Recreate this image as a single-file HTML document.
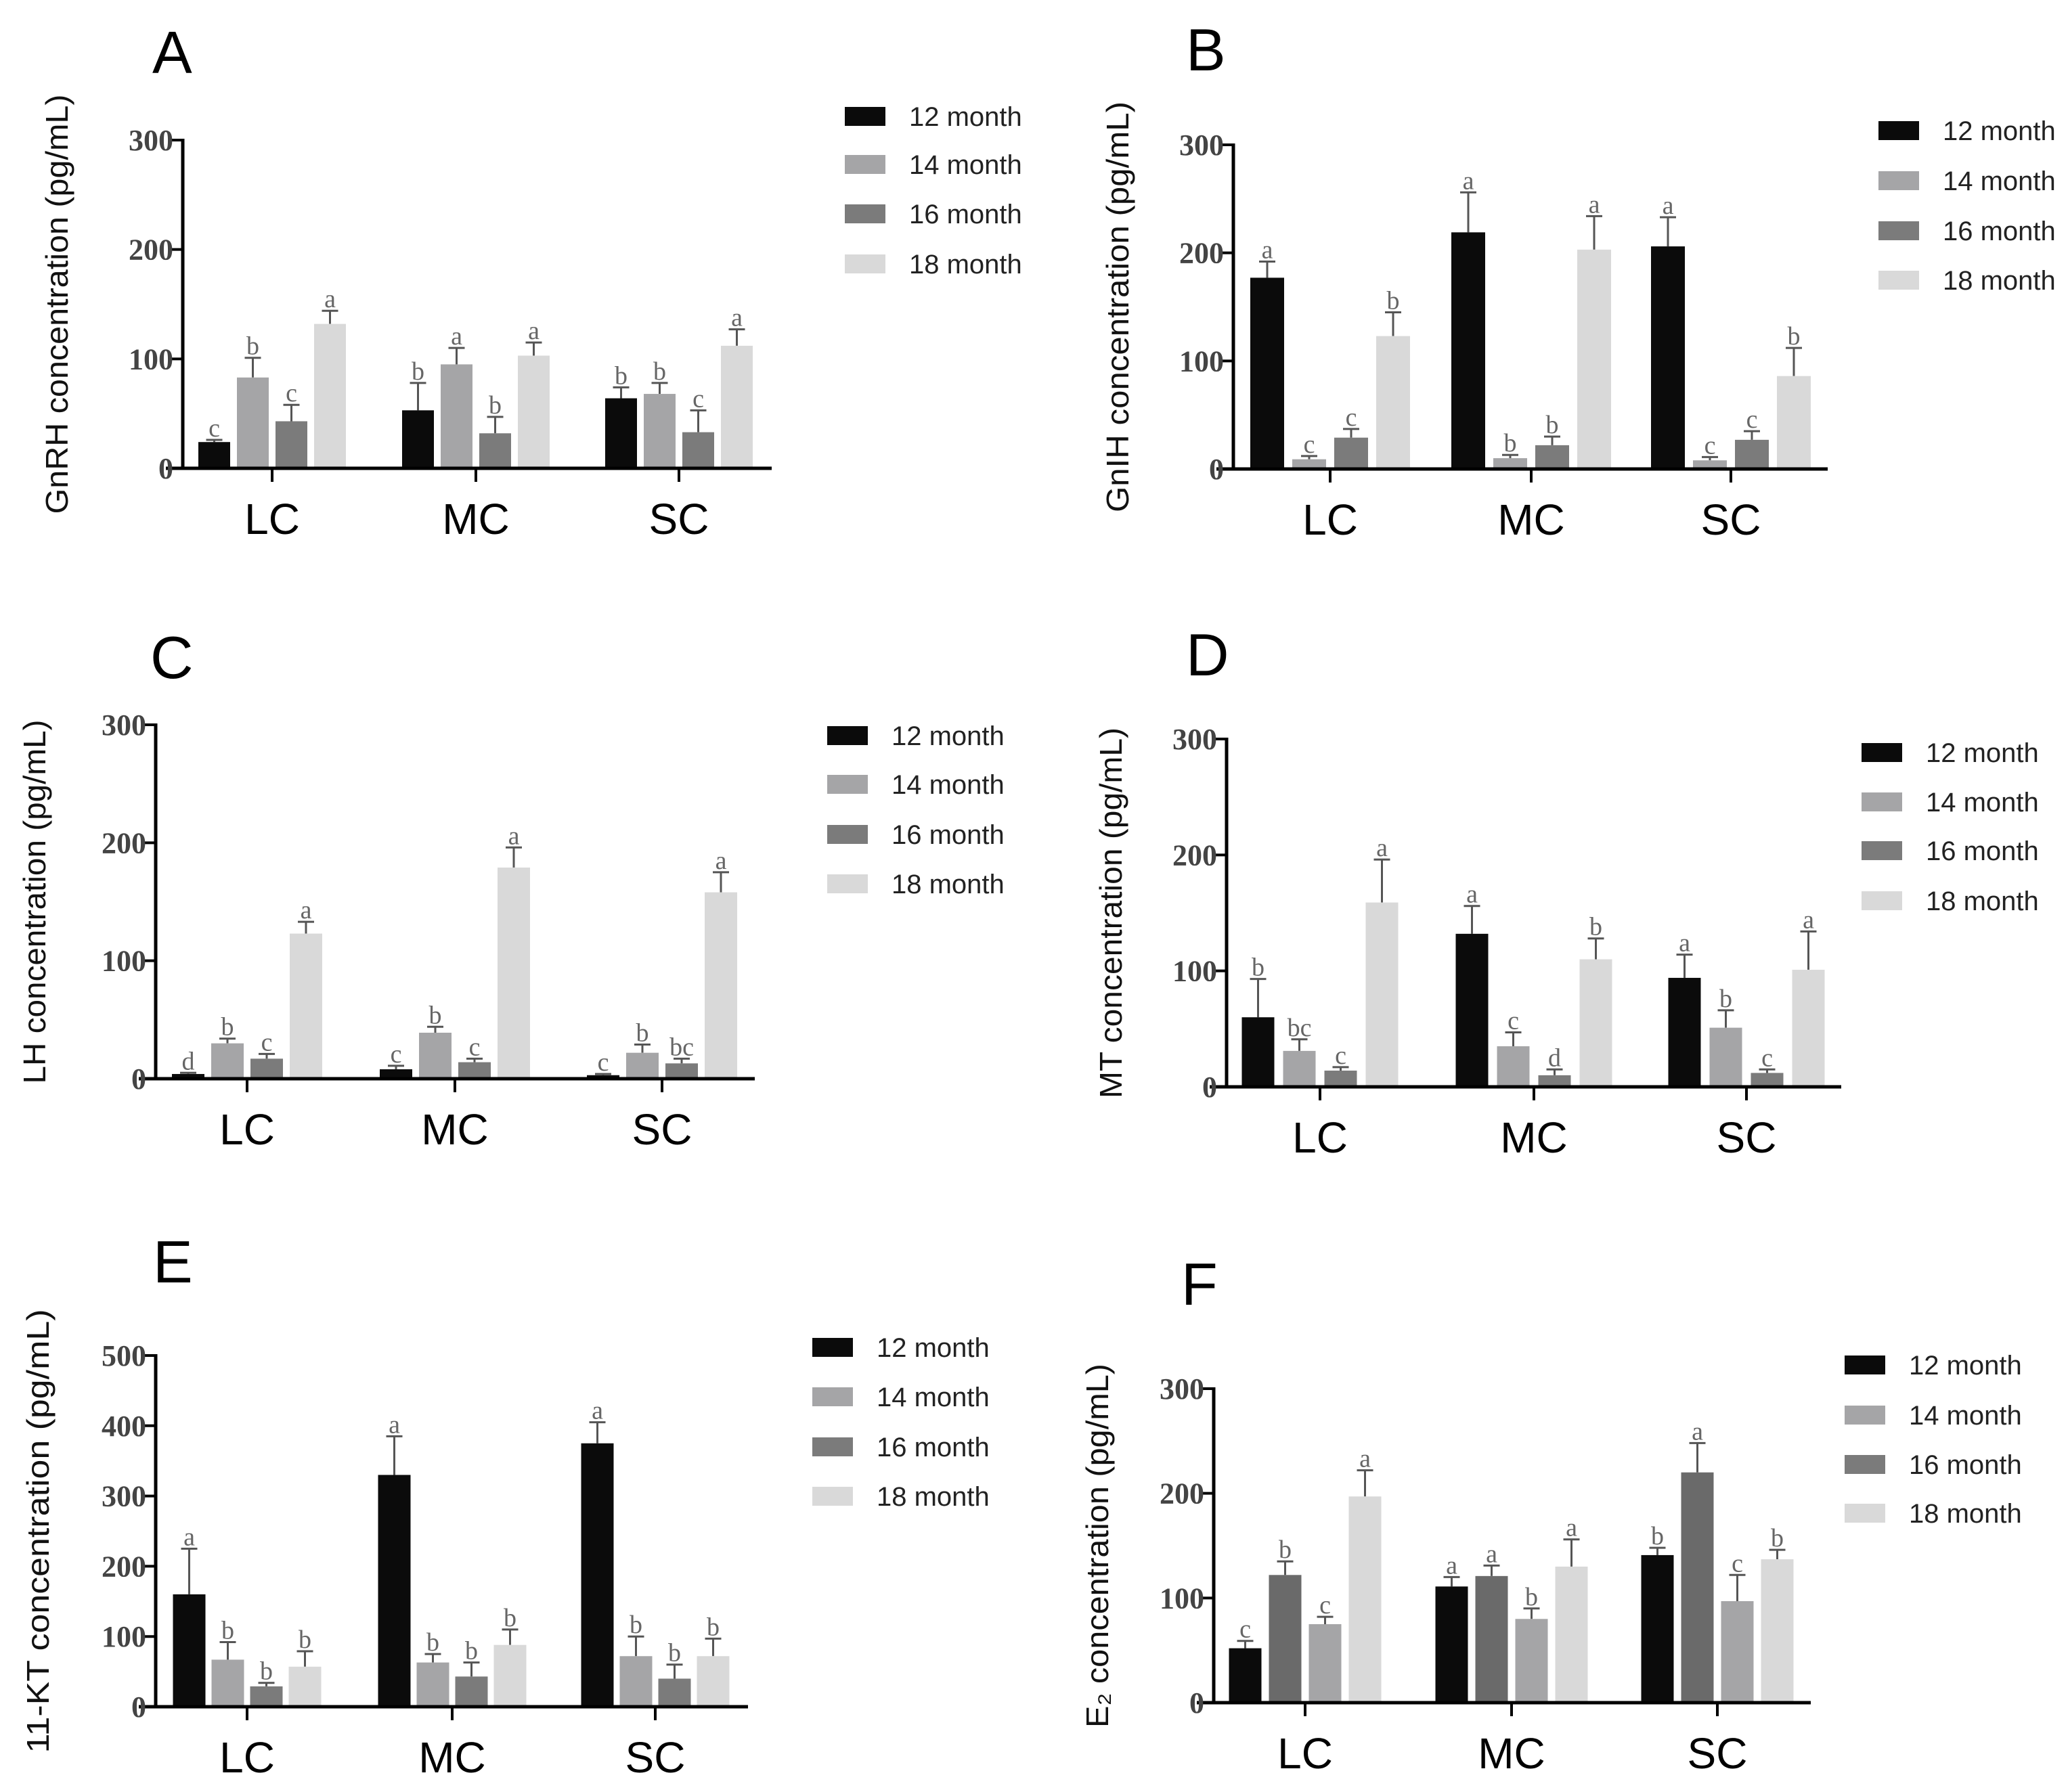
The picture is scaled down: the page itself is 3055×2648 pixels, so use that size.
<!DOCTYPE html>
<html><head><meta charset="utf-8"><style>
html,body{margin:0;padding:0;background:#fff;}
svg{display:block;}
</style></head><body>
<svg id="fig" xmlns="http://www.w3.org/2000/svg" width="3055" height="2648" viewBox="0 0 3055 2648">
<rect width="3055" height="2648" fill="#fff"/>
</svg>
<script>
// ---- data ----
const categories = ["LC","MC","SC"];
const seriesNames = ["12 month","14 month","16 month","18 month"];
const gnrhValues = [[24,83,43,132],[53,95,32,103],[64,68,33,112]];
const gnrhErrors = [[2,18,15,12],[25,15,15,12],[10,10,20,15]];
const gnrhLetters = [["c","b","c","a"],["b","a","b","a"],["b","b","c","a"]];
const gnihValues = [[177,9,29,123],[219,10,22,203],[206,8,27,86]];
const gnihErrors = [[15,3,8,22],[37,3,8,31],[27,3,8,26]];
const gnihLetters = [["a","c","c","b"],["a","b","b","a"],["a","c","c","b"]];
const lhValues = [[4,30,17,123],[8,39,14,179],[3,22,13,158]];
const lhErrors = [[1,4,4,10],[3,5,3,17],[1,7,4,17]];
const lhLetters = [["d","b","c","a"],["c","b","c","a"],["c","b","bc","a"]];
const mtValues = [[60,31,14,159],[132,35,10,110],[94,51,12,101]];
const mtErrors = [[33,10,3,37],[24,12,5,18],[20,15,3,33]];
const mtLetters = [["b","bc","c","a"],["a","c","d","b"],["a","b","c","a"]];
const ktValues = [[160,67,29,57],[330,63,43,88],[375,72,40,72]];
const ktErrors = [[65,25,5,22],[55,12,20,22],[30,28,20,25]];
const ktLetters = [["a","b","b","b"],["a","b","b","b"],["a","b","b","b"]];
const e2Values = [[52,122,75,197],[111,121,80,130],[141,220,97,137]];
const e2Errors = [[7,13,7,25],[9,10,10,26],[7,28,25,9]];
const e2Letters = [["c","b","c","a"],["a","a","b","a"],["b","a","c","b"]];
const ticks300 = [0,100,200,300];
const ticks500 = [0,100,200,300,400,500];

const C = ["#0b0b0b","#a5a5a7","#7b7b7b","#d9d9d9"];
const CF = ["#0b0b0b","#6a6a6a","#a5a5a7","#d9d9d9"];

const panels = [
 {id:"a",letter:"A",lx:225,ly:108,title:"GnRH concentration (pg/mL)",tl:620,tx:88,ax:270,ax0:245,ax1:1140,y0:692,yTop:207,max:300,ticks:ticks300,
  groups:[402,703,1003],sp:57,bw:47,vals:gnrhValues,errs:gnrhErrors,lets:gnrhLetters,cols:C,legX:1248,legY:[172,243,316,390]},
 {id:"b",letter:"B",lx:1752,ly:104,title:"GnIH concentration (pg/mL)",tl:607,tx:1655,ax:1822,ax0:1797,ax1:2700,y0:693,yTop:214,max:300,ticks:ticks300,
  groups:[1965,2262,2557],sp:62,bw:50,vals:gnihValues,errs:gnihErrors,lets:gnihLetters,cols:C,legX:2775,legY:[193,267,341,414]},
 {id:"c",letter:"C",lx:222,ly:1002,title:"LH concentration (pg/mL)",tl:538,tx:55,ax:230,ax0:205,ax1:1115,y0:1594,yTop:1071,max:300,ticks:ticks300,
  groups:[365,672,978],sp:58,bw:48,vals:lhValues,errs:lhErrors,lets:lhLetters,cols:C,legX:1222,legY:[1087,1159,1233,1306]},
 {id:"d",letter:"D",lx:1752,ly:998,title:"MT concentration (pg/mL)",tl:548,tx:1645,ax:1812,ax0:1787,ax1:2720,y0:1606,yTop:1092,max:300,ticks:ticks300,
  groups:[1950,2266,2580],sp:61,bw:48,vals:mtValues,errs:mtErrors,lets:mtLetters,cols:C,legX:2750,legY:[1112,1185,1257,1331]},
 {id:"e",letter:"E",lx:226,ly:1895,title:"11-KT concentration (pg/mL)",tl:656,tx:60,ax:230,ax0:205,ax1:1105,y0:2522,yTop:2003,max:500,ticks:ticks500,
  groups:[365,668,968],sp:57,bw:48,vals:ktValues,errs:ktErrors,lets:ktLetters,cols:C,legX:1200,legY:[1991,2064,2138,2211]},
 {id:"f",letter:"F",lx:1745,ly:1928,title:"E\u2082 concentration (pg/mL)",tl:538,tx:1625,ax:1793,ax0:1768,ax1:2675,y0:2516,yTop:2052,max:300,ticks:ticks300,
  groups:[1928,2233,2537],sp:59,bw:48,vals:e2Values,errs:e2Errors,lets:e2Letters,cols:CF,legX:2725,legY:[2017,2091,2164,2236]}
];

const NS="http://www.w3.org/2000/svg";
const svg=document.getElementById("fig");
function mk(tag,attrs,parent,txt){const e=document.createElementNS(NS,tag);for(const k in attrs)e.setAttribute(k,attrs[k]);if(txt!==undefined)e.textContent=txt;parent.appendChild(e);return e;}

panels.forEach(p=>{
  const g=mk("g",{},svg);
  
  
  const yS=v=>p.y0-(v/p.max)*(p.y0-p.yTop);
  const lab=mk("text",{x:p.lx,y:p.ly,"font-family":"Liberation Sans, sans-serif","font-size":88,fill:"#000"},g,p.letter);
  
  
  const cy=(p.y0+p.yTop)/2;
  const yt=mk("text",{x:p.tx,y:cy,transform:`rotate(-90 ${p.tx} ${cy})`,"text-anchor":"middle","dominant-baseline":"middle","font-family":"Liberation Sans, sans-serif","font-size":46,fill:"#111",textLength:p.tl,lengthAdjust:"spacingAndGlyphs"},g,p.title);
  
  
  p.vals.forEach((grp,gi)=>{
    grp.forEach((v,si)=>{
      const cx=p.groups[gi]+(si-1.5)*p.sp;
      const top=yS(v), et=yS(v+p.errs[gi][si]);
      const eb=mk("line",{x1:cx,x2:cx,y1:top,y2:et,stroke:"#555","stroke-width":3},g);
      
      
      const cap=mk("line",{x1:cx-12,x2:cx+12,y1:et,y2:et,stroke:"#555","stroke-width":3},g);
      
      
      const r=mk("rect",{x:cx-p.bw/2,y:top,width:p.bw,height:p.y0-top,fill:p.cols[si]},g);
      
      
      const t=mk("text",{x:cx,y:et-5,"text-anchor":"middle","font-family":"Liberation Serif, serif","font-size":38,fill:"#666"},g,p.lets[gi][si]);
      
      
    });
  });
  const ya=mk("line",{x1:p.ax,x2:p.ax,y1:p.yTop-2,y2:p.y0,stroke:"#000","stroke-width":5},g);
  
  
  const xa=mk("line",{x1:p.ax0,x2:p.ax1,y1:p.y0,y2:p.y0,stroke:"#000","stroke-width":5},g);
  
  
  p.ticks.forEach(tv=>{
    const y=yS(tv);
    const tk=mk("line",{x1:p.ax-18,x2:p.ax,y1:y,y2:y,stroke:"#000","stroke-width":4},g);
    
    
    const tl=mk("text",{x:p.ax-14,y:y+15,"text-anchor":"end","font-family":"Liberation Serif, serif","font-weight":"bold","font-size":44,fill:"#444"},g,String(tv));
    
    
  });
  p.groups.forEach((gx,gi)=>{
    const tk=mk("line",{x1:gx,x2:gx,y1:p.y0,y2:p.y0+20,stroke:"#000","stroke-width":4},g);
    
    
    const cl=mk("text",{x:gx,y:p.y0+97,"text-anchor":"middle","font-family":"Liberation Sans, sans-serif","font-size":64,fill:"#000"},g,categories[gi]);
    
    
  });
  seriesNames.forEach((n,si)=>{
    const ly=p.legY[si];
    const sw=mk("rect",{x:p.legX,y:ly-14,width:60,height:28,fill:C[si]},g);
    
    
    const lt=mk("text",{x:p.legX+95,y:ly+14,"font-family":"Liberation Sans, sans-serif","font-size":40,fill:"#222"},g,n);
    
    
  });
});
</script>
</body></html>
